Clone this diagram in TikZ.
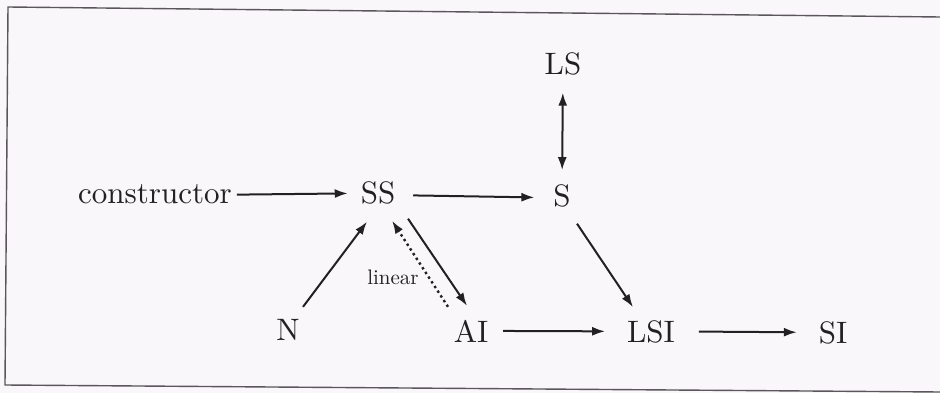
\documentclass[tikz,border=0pt]{standalone}
\usepackage{fontspec}
\setmainfont{lmroman10-regular}[Extension=.otf]
\usetikzlibrary{arrows.meta,calc}
\definecolor{ink}{RGB}{35,32,36}
\definecolor{paper}{RGB}{249,247,249}
\definecolor{framec}{RGB}{90,86,92}
\tikzset{
  lbl/.style={anchor=base,inner sep=0pt,outer sep=0pt,text=ink,font=\fontsize{31}{37}\selectfont},
  small/.style={inner sep=0pt,text=ink,font=\fontsize{21}{25}\selectfont},
  arr/.style={draw=ink,line width=2pt,-{Latex[length=13pt,width=9pt]}},
  darr/.style={draw=ink,line width=2pt,{Latex[length=13pt,width=9pt]}-{Latex[length=13pt,width=9pt]}},
  dotarr/.style={draw=ink,line width=2.4pt,dash pattern=on 2.4pt off 3.2pt,-{Latex[length=13pt,width=9pt]}},
}
\begin{document}
\begin{tikzpicture}[x=1pt,y=-1pt]
\useasboundingbox (0,0) rectangle (940,393);
\fill[paper] (0,0) rectangle (940,393);
\draw[framec,line width=1.4pt] (940,17) -- (8,7) -- (5,385) -- (940,392);

\node[lbl] (cons) at (155,204) {constructor};
\node[lbl] (SS) at (378,203) {SS};
\node[lbl] (S) at (562,207) {S};
\node[lbl] (LS) at (563,75) {LS};
\node[lbl] (N) at (288,340) {N};
\node[lbl] (AI) at (471,342) {AI};
\node[lbl] (LSI) at (651,342) {LSI};
\node[lbl] (SI) at (833,343) {SI};
\node[small] (lin) at (393,277) {linear};

\draw[arr] ($(cons.east)+(5,0)$) -- ($(SS.west)+(-13,1)$);
\draw[arr] ($(SS.east)+(18,3)$) -- ($(S.west)+(-19,1)$);
\draw[darr,shorten <=17pt,shorten >=15pt] (LS.south) -- (S.north);
\draw[arr] ($(N.north)+(15,-12)$) -- ($(SS.south)+(-11,18)$);
\draw[arr] ($(SS.south)+(30,15)$) -- ($(AI.north)+(-4,-14)$);
\draw[dotarr] ($(AI.north)+(-23,-13)$) -- ($(SS.south)+(14,17)$);
\draw[arr,shorten <=15pt,shorten >=22pt] (AI.east) -- (LSI.west);
\draw[arr] ($(S.south)+(15,16)$) -- ($(LSI.north)+(-18,-13)$);
\draw[arr,shorten <=24pt,shorten >=22pt] (LSI.east) -- (SI.west);
\end{tikzpicture}
\end{document}
